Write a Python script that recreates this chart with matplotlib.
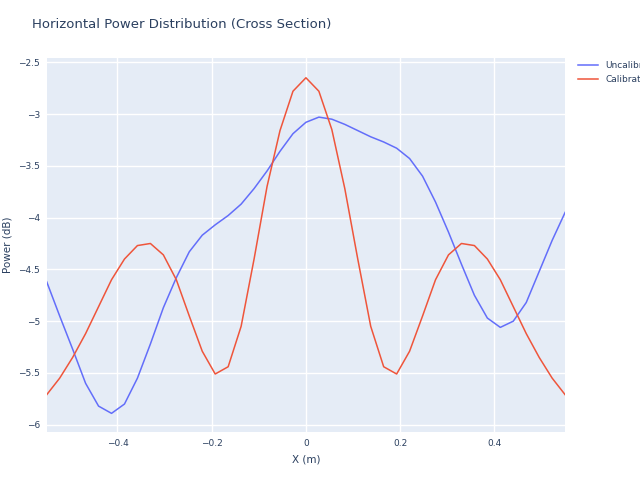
import matplotlib.pyplot as plt
import numpy as np

x_m = np.round(np.linspace(-0.55, 0.55, 41), 4)
uncalibrated = [-4.62, -4.95, -5.27, -5.6, -5.82, -5.89, -5.8, -5.55, -5.22, -4.87,
                -4.58, -4.33, -4.17, -4.07, -3.98, -3.87, -3.72, -3.55, -3.36, -3.19,
                -3.08, -3.03, -3.05, -3.1, -3.16, -3.22, -3.27, -3.33, -3.43, -3.6,
                -3.85, -4.14, -4.45, -4.75, -4.97, -5.06, -5.0, -4.82, -4.52, -4.22, -3.95]
calibrated = [-5.71, -5.55, -5.35, -5.12, -4.86, -4.6, -4.4, -4.27, -4.25, -4.36,
              -4.6, -4.95, -5.29, -5.51, -5.44, -5.05, -4.4, -3.7, -3.16, -2.78,
              -2.65, -2.78, -3.15, -3.72, -4.4, -5.05, -5.44, -5.51, -5.29, -4.95,
              -4.6, -4.36, -4.25, -4.27, -4.4, -4.6, -4.86, -5.12, -5.35, -5.55, -5.71]
x_ticks = [-0.4, -0.2, 0, 0.2, 0.4]
y_ticks = [-6, -5.5, -5, -4.5, -4, -3.5, -3, -2.5]

text_col = '#2a3f5f'
fig = plt.figure(figsize=(6.4, 4.8), dpi=100)
ax = fig.add_axes([0.073, 0.1, 0.81, 0.779])
ax.set_facecolor('#e5ecf6')
ax.plot(x_m, uncalibrated, color='#636efa', lw=1.1, label='Uncalibrated')
ax.plot(x_m, calibrated, color='#ef553b', lw=1.1, label='Calibrated')
ax.set_xlim(-0.55, 0.55)
ax.set_ylim(-6.07, -2.46)
ax.set_xticks(x_ticks)
ax.set_xticklabels(['\u22120.4', '\u22120.2', '0', '0.2', '0.4'])
ax.set_yticks(y_ticks)
ax.set_yticklabels([('\u2212' + f'{abs(v):g}') for v in y_ticks])
ax.grid(True, color='white', lw=1)
ax.set_axisbelow(True)
for s in ax.spines.values():
    s.set_visible(False)
ax.tick_params(length=0, labelsize=6.5, colors=text_col, pad=5)
ax.set_xlabel('X (m)', fontsize=7.5, color=text_col, labelpad=5)
ax.set_ylabel('Power (dB)', fontsize=7.5, color=text_col, labelpad=4)
fig.text(0.05, 0.942, 'Horizontal Power Distribution (Cross Section)', fontsize=9.5, color=text_col)
fig.legend(loc='upper left', bbox_to_anchor=(0.898, 0.88), frameon=False,
           fontsize=6.5, labelcolor=text_col, handlelength=2.2, borderaxespad=0)
fig.savefig('out.png', dpi=100)
